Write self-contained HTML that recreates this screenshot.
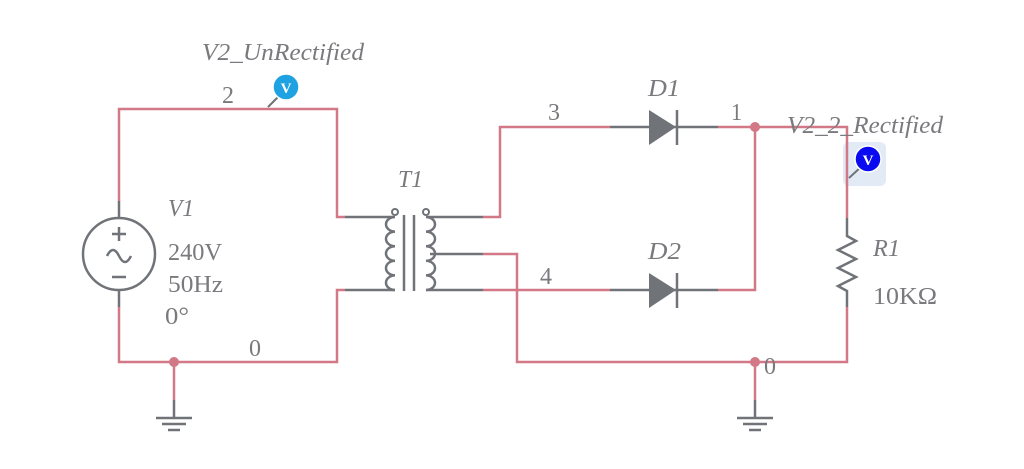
<!DOCTYPE html>
<html><head><meta charset="utf-8"><style>
html,body{margin:0;padding:0;background:#fff;}
svg{display:block;}
text{font-family:"Liberation Serif",serif;fill:#7a7a7e;font-size:24px;}
.i{font-style:italic;}
</style></head><body>
<svg width="1024" height="469" viewBox="0 0 1024 469" xmlns="http://www.w3.org/2000/svg">
<g fill="none" stroke-width="2.5">
<g stroke="#d27886">
<polyline points="119,201 119,109 337,109 337,217 345,217"/>
<polyline points="119,307 119,362 337,362 337,290 345,290"/>
<line x1="174" y1="362" x2="174" y2="400"/>
<polyline points="483,217 500,217 500,127 610,127"/>
<polyline points="483,254 517,254 517,362 847,362 847,307"/>
<line x1="483" y1="290" x2="610" y2="290"/>
<polyline points="718,127 847,127 847,218"/>
<polyline points="718,290 755,290 755,127"/>
<line x1="755" y1="362" x2="755" y2="400"/>
</g>
<g stroke="#707378">
<line x1="119" y1="201" x2="119" y2="218"/>
<line x1="119" y1="290" x2="119" y2="307"/>
<circle cx="119" cy="254" r="36"/>
<line x1="112" y1="234" x2="126" y2="234"/><line x1="119" y1="227" x2="119" y2="241"/>
<line x1="112" y1="277" x2="126" y2="277"/>
<path d="M107,256 q6,-12 12,0 t12,0"/>
<line x1="345" y1="217" x2="393" y2="217"/>
<line x1="345" y1="290" x2="395" y2="290"/>
<circle cx="395" cy="212" r="3" stroke-width="2"/>
<circle cx="426" cy="212" r="3" stroke-width="2"/>
<path d="M395,217 a9,7.3 0 1 0 0,14.6 a9,7.3 0 1 0 0,14.6 a9,7.3 0 1 0 0,14.6 a9,7.3 0 1 0 0,14.6 a9,7.3 0 1 0 0,14.6"/>
<path d="M426,217 a9,7.3 0 1 1 0,14.6 a9,7.3 0 1 1 0,14.6 a9,7.3 0 1 1 0,14.6 a9,7.3 0 1 1 0,14.6 a9,7.3 0 1 1 0,14.6"/>
<line x1="404" y1="215" x2="404" y2="291"/>
<line x1="414" y1="215" x2="414" y2="291"/>
<line x1="428" y1="217" x2="483" y2="217"/>
<line x1="430" y1="254" x2="483" y2="254"/>
<line x1="426" y1="290" x2="483" y2="290"/>
<line x1="610" y1="127" x2="718" y2="127"/>
<line x1="677" y1="110" x2="677" y2="145"/>
<line x1="610" y1="290" x2="718" y2="290"/>
<line x1="677" y1="273" x2="677" y2="308"/>
<polyline points="847,218 847,236 856,241 838,250 856,259 838,268 856,277 838,286 847,291 847,307"/>
<line x1="174" y1="400" x2="174" y2="418"/>
<line x1="156" y1="418" x2="192" y2="418"/>
<line x1="162" y1="424" x2="186" y2="424"/>
<line x1="168" y1="430" x2="180" y2="430"/>
<line x1="755" y1="400" x2="755" y2="418"/>
<line x1="737" y1="418" x2="773" y2="418"/>
<line x1="743" y1="424" x2="767" y2="424"/>
<line x1="749" y1="430" x2="761" y2="430"/>
<line x1="268" y1="107" x2="280" y2="95" stroke-width="2"/>
</g>
</g>
<polygon points="649,110 676,127 649,145" fill="#707378"/>
<polygon points="649,273 676,290 649,308" fill="#707378"/>
<circle cx="174" cy="362" r="5" fill="#d27886"/>
<circle cx="755" cy="127" r="5" fill="#d27886"/>
<circle cx="755" cy="362" r="5" fill="#d27886"/>
<rect x="843" y="142" width="43" height="44" rx="6" fill="#e2ebf5"/>
<line x1="847" y1="142" x2="847" y2="186" stroke="#d27886" stroke-width="2.5"/>
<line x1="849" y1="178" x2="862" y2="166" stroke="#707378" stroke-width="2"/>
<circle cx="286" cy="87" r="13" fill="#1ea2e2" stroke="#fff" stroke-width="1.5"/>
<text x="286" y="93" text-anchor="middle" style="fill:#fff;font-size:15px;font-weight:bold">V</text>
<circle cx="868" cy="159" r="13" fill="#0a0af0" stroke="#fff" stroke-width="1.5"/>
<text x="868" y="165" text-anchor="middle" style="fill:#fff;font-size:15px;font-weight:bold">V</text>
<text class="i" x="202" y="60" textLength="162" lengthAdjust="spacingAndGlyphs">V2_UnRectified</text>
<text x="222" y="103" textLength="12" lengthAdjust="spacingAndGlyphs">2</text>
<text class="i" x="398" y="187" textLength="25" lengthAdjust="spacingAndGlyphs">T1</text>
<text class="i" x="168" y="216" textLength="26" lengthAdjust="spacingAndGlyphs">V1</text>
<text x="168" y="260" textLength="54" lengthAdjust="spacingAndGlyphs">240V</text>
<text x="168" y="292" textLength="55" lengthAdjust="spacingAndGlyphs">50Hz</text>
<text x="165" y="324" textLength="24" lengthAdjust="spacingAndGlyphs">0°</text>
<text x="249" y="356" textLength="12" lengthAdjust="spacingAndGlyphs">0</text>
<text x="548" y="120" textLength="12" lengthAdjust="spacingAndGlyphs">3</text>
<text class="i" x="648" y="96" textLength="32" lengthAdjust="spacingAndGlyphs">D1</text>
<text x="731" y="120" textLength="11" lengthAdjust="spacingAndGlyphs">1</text>
<text class="i" x="787" y="133" textLength="156" lengthAdjust="spacingAndGlyphs">V2_2_Rectified</text>
<text class="i" x="648" y="259" textLength="33" lengthAdjust="spacingAndGlyphs">D2</text>
<text x="540" y="284" textLength="12" lengthAdjust="spacingAndGlyphs">4</text>
<text class="i" x="873" y="256" textLength="27" lengthAdjust="spacingAndGlyphs">R1</text>
<text x="873" y="304" textLength="64" lengthAdjust="spacingAndGlyphs">10KΩ</text>
<text x="764" y="374" textLength="12" lengthAdjust="spacingAndGlyphs">0</text>
</svg>
</body></html>
